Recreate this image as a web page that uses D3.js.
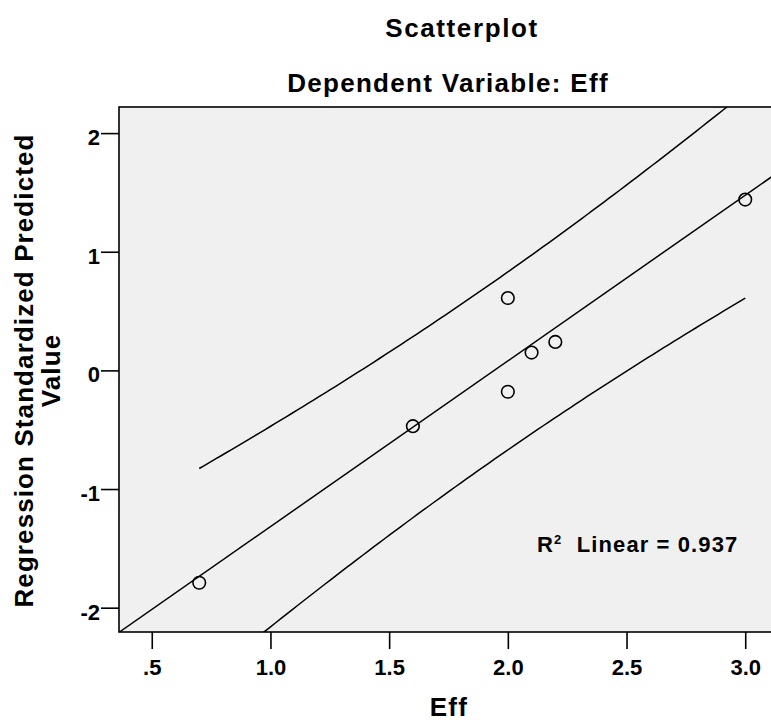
<!DOCTYPE html>
<html>
<head>
<meta charset="utf-8">
<script src="https://cdn.jsdelivr.net/npm/d3@7"></script>
<style>
  body { margin: 0; background: #fff; }
  text { font-family: "Liberation Sans", Arial, sans-serif; font-weight: bold; fill: #000; }
</style>
</head>
<body>
<div id="chart"></div>
<script>
const width = 771;
const height = 723;
const margin = { top: 107, right: -2, bottom: 91, left: 119 };

// Data
const effValues = [0.7, 1.6, 2.0, 2.0, 2.1, 2.2, 3.0];
const predictedValues = [-1.79, -0.47, 0.61, -0.18, 0.15, 0.24, 1.44];
const xTicks = [0.5, 1.0, 1.5, 2.0, 2.5, 3.0];
const yTicks = [-2, -1, 0, 1, 2];
const rSquaredLabel = "0.937";
const tCrit = 2.571; // t(0.975, df = 5)

const x = d3.scaleLinear().domain([0.362, 3.117]).range([margin.left, width - margin.right]);
const y = d3.scaleLinear().domain([-2.205, 2.22]).range([height - margin.bottom, margin.top]);

// Least squares fit and 95% individual prediction interval
const n = effValues.length;
const mx = d3.mean(effValues), my = d3.mean(predictedValues);
const sxx = d3.sum(effValues, v => (v - mx) ** 2);
const sxy = d3.sum(effValues, (v, i) => (v - mx) * (predictedValues[i] - my));
const slope = sxy / sxx, intercept = my - slope * mx;
const sse = d3.sum(effValues, (v, i) => (predictedValues[i] - (intercept + slope * v)) ** 2);
const s = Math.sqrt(sse / (n - 2));
const fit = v => intercept + slope * v;
const half = v => tCrit * s * Math.sqrt(1 + 1 / n + (v - mx) ** 2 / sxx);

const svg = d3.select("#chart").append("svg")
    .attr("width", width).attr("height", height);

svg.append("defs").append("clipPath").attr("id", "plot")
    .append("rect")
    .attr("x", margin.left).attr("y", margin.top)
    .attr("width", width - margin.right - margin.left)
    .attr("height", height - margin.bottom - margin.top);

svg.append("rect")
    .attr("x", margin.left).attr("y", margin.top)
    .attr("width", width - margin.right - margin.left)
    .attr("height", height - margin.bottom - margin.top)
    .attr("fill", "#f0f0f0")
    .attr("stroke", "#000").attr("stroke-width", 1.6);

const g = svg.append("g").attr("clip-path", "url(#plot)");
const line = d3.line().x(d => x(d[0])).y(d => y(d[1]));

const [xmin, xmax] = d3.extent(effValues);
const xs = d3.range(0, 101).map(i => xmin + (xmax - xmin) * i / 100);

// fit line across the whole plot
g.append("path")
    .attr("d", line(x.domain().map(v => [v, fit(v)])))
    .attr("fill", "none").attr("stroke", "#000").attr("stroke-width", 1.5);

g.append("path")
    .attr("d", line(xs.map(v => [v, fit(v) + half(v)])))
    .attr("fill", "none").attr("stroke", "#000").attr("stroke-width", 1.5);

g.append("path")
    .attr("d", line(xs.map(v => [v, fit(v) - half(v)])))
    .attr("fill", "none").attr("stroke", "#000").attr("stroke-width", 1.5);

g.selectAll("circle")
    .data(effValues)
    .join("circle")
    .attr("cx", d => x(d))
    .attr("cy", (d, i) => y(predictedValues[i]))
    .attr("r", 6.3)
    .attr("fill", "none").attr("stroke", "#000").attr("stroke-width", 1.6);

// axes
const xAxis = svg.append("g")
    .attr("transform", `translate(0,${height - margin.bottom})`)
    .call(d3.axisBottom(x).tickValues(xTicks).tickSize(17).tickPadding(10)
        .tickFormat(d => d === 0.5 ? ".5" : d3.format(".1f")(d)));
xAxis.select(".domain").remove();
xAxis.selectAll(".tick line").attr("stroke-width", 1.6);
xAxis.selectAll("text").style("font-size", "22px");

const yAxis = svg.append("g")
    .attr("transform", `translate(${margin.left},0)`)
    .call(d3.axisLeft(y).tickValues(yTicks).tickSize(18).tickPadding(1)
        .tickFormat(d3.format("d")));
yAxis.select(".domain").remove();
yAxis.selectAll(".tick line").attr("stroke-width", 1.6);
yAxis.selectAll("text").style("font-size", "22px").attr("dy", "0.52em")
    .text(d => d < 0 ? "-" + Math.abs(d) : d);

// titles
const cx = (margin.left + width - margin.right) / 2;
svg.append("text").attr("x", 462).attr("y", 37).attr("text-anchor", "middle")
    .style("font-size", "26px").style("letter-spacing", "1.6px").text("Scatterplot");
svg.append("text").attr("x", cx + 2).attr("y", 92).attr("text-anchor", "middle")
    .style("font-size", "26px").style("letter-spacing", "1.3px").text("Dependent Variable: Eff");
svg.append("text").attr("x", cx + 3).attr("y", 716).attr("text-anchor", "middle")
    .style("font-size", "26px").style("letter-spacing", "1.3px").text("Eff");

const cy = (margin.top + height - margin.bottom) / 2;
const yl = svg.append("text").attr("transform", `translate(33,${cy + 1}) rotate(-90)`)
    .attr("text-anchor", "middle").style("font-size", "26px").style("letter-spacing", "1.1px");
yl.append("tspan").attr("x", 0).attr("dy", 0).text("Regression Standardized Predicted");
yl.append("tspan").attr("x", 0).attr("dy", 27).text("Value");

// R squared annotation
const r2 = svg.append("text").attr("x", 537).attr("y", 552).style("font-size", "22px").style("letter-spacing", "1.1px");
r2.append("tspan").text("R");
r2.append("tspan").attr("dy", -8).style("font-size", "13px").text("2");
r2.append("tspan").attr("dy", 8).text("\u00a0 Linear = " + rSquaredLabel);
</script>
</body>
</html>
